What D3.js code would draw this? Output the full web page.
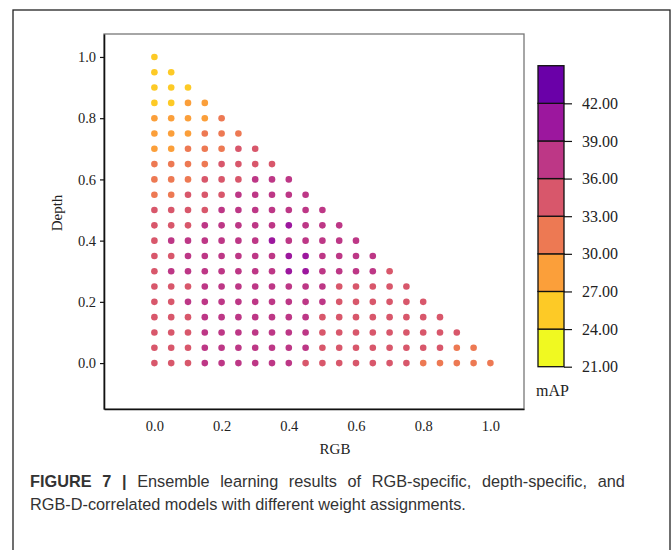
<!DOCTYPE html>
<html>
<head>
<meta charset="utf-8">
<script src="https://cdn.jsdelivr.net/npm/d3@7"></script>
<style>
body { margin: 0; background: #fff; }
svg { display: block; }
</style>
</head>
<body>
<script>
// weight grid: rgb weight along x, depth weight along y (step 0.05, rgb + depth <= 1)
var depthWeights = d3.range(0, 21).map(function(k) { return +(k * 0.05).toFixed(2); });

// mAP per depth row (row k = depth 0.05*k), entries for rgb = 0, 0.05, ... 1 - depth
var mapRows = [
    [34.2,35.1,35.8,36.6,37.3,37.9,38.1,37.8,37.2,35.9,35.6,35.2,34.8,34.3,33.9,33.4,32.8,32.1,31.5,30.9,30.3],
    [34.4,35.3,35.9,36.8,37.5,38.0,38.3,38.1,37.6,36.9,35.8,35.4,35.0,34.6,34.1,33.6,33.2,33.0,32.4,31.7],
    [34.5,35.4,35.9,36.9,37.6,38.2,38.5,38.3,37.9,37.1,35.9,35.6,35.2,34.9,34.5,34.1,33.7,33.4,33.1],
    [34.6,35.5,35.9,37.0,37.8,38.4,38.7,38.6,38.2,37.4,35.9,35.7,35.3,34.9,34.5,34.0,33.6,33.2],
    [34.7,35.8,36.3,37.2,37.9,38.5,38.8,38.7,38.4,37.7,36.4,35.8,35.4,35.0,34.5,34.0,33.5],
    [34.8,35.6,35.9,37.1,37.9,38.6,38.9,38.8,38.6,38.0,36.7,35.9,35.5,35.0,34.5,34.0],
    [35.0,36.4,37.5,38.2,38.7,38.9,38.9,38.8,39.2,39.3,38.4,37.8,37.1,36.2,35.4],
    [34.9,35.9,37.1,38.0,38.6,38.8,38.9,38.9,39.3,39.2,38.5,37.9,37.0,36.1],
    [35.2,36.5,37.4,38.2,38.6,38.8,38.9,39.1,38.9,38.6,38.0,37.2,36.3],
    [34.9,35.6,35.9,36.9,37.8,38.4,38.7,38.9,39.1,38.8,38.1,37.0],
    [34.6,35.3,35.7,35.9,36.8,37.6,38.1,38.5,38.6,38.3,37.4],
    [32.6,32.9,33.8,34.9,35.8,36.6,37.3,37.8,38.0,37.6],
    [31.5,32.1,32.8,33.6,34.7,35.7,36.4,36.9,37.1],
    [30.6,31.3,32.0,32.7,33.5,34.4,35.1,35.5],
    [29.1,29.8,30.5,31.4,32.5,33.4,34.0],
    [28.2,28.9,29.7,30.6,31.5,32.4],
    [27.4,28.0,28.7,29.6,30.5],
    [26.3,26.9,27.6,28.4],
    [25.5,26.0,26.7],
    [24.6,25.4],
    [24.3]
];

var xTicks = [0, 0.2, 0.4, 0.6, 0.8, 1.0];
var yTicks = [0, 0.2, 0.4, 0.6, 0.8, 1.0];
var binEdges = [21, 24, 27, 30, 33, 36, 39, 42, 45];
var binColors = ["#f0f921","#fdca26","#fb9f3a","#ed7953","#d8576b","#bd3786","#9c179e","#6a00a8"];

var points = [];
mapRows.forEach(function(row, k) {
    row.forEach(function(v, i) {
        points.push({ rgb: +(i * 0.05).toFixed(2), depth: depthWeights[k], map: v });
    });
});

var width = 672, height = 550;
var svg = d3.select("body").append("svg")
    .attr("width", width)
    .attr("height", height);

// figure border
svg.append("rect")
    .attr("x", 13).attr("y", 10)
    .attr("width", 657).attr("height", 560)
    .attr("fill", "none")
    .attr("stroke", "#222")
    .attr("stroke-width", 1.3);

var x = d3.scaleLinear().domain([-0.15, 1.1]).range([104, 524]);
var y = d3.scaleLinear().domain([-0.15, 1.075]).range([409, 34]);
var color = d3.scaleThreshold().domain(binEdges.slice(1, -1)).range(binColors);

// plot frame (top/right lighter)
svg.append("rect")
    .attr("x", 104).attr("y", 34)
    .attr("width", 420).attr("height", 375)
    .attr("fill", "none")
    .attr("stroke", "#777")
    .attr("stroke-width", 1.3);

var serif = "'Liberation Serif', 'Times New Roman', serif";

var xAxis = svg.append("g")
    .attr("transform", "translate(0,409)")
    .call(d3.axisBottom(x).tickValues(xTicks).tickFormat(d3.format(".1f"))
        .tickSize(0).tickSizeOuter(0).tickPadding(12));
var yAxis = svg.append("g")
    .attr("transform", "translate(104,0)")
    .call(d3.axisLeft(y).tickValues(yTicks).tickFormat(d3.format(".1f"))
        .tickSizeInner(4).tickSizeOuter(0).tickPadding(4));

[xAxis, yAxis].forEach(function(a) {
    a.select(".domain").attr("stroke", "#111").attr("stroke-width", 1.6);
    a.selectAll(".tick line").attr("stroke", "#111").attr("stroke-width", 1.2);
    a.selectAll("text").attr("font-family", serif).attr("font-size", 14.5).attr("fill", "#222");
});

svg.append("text")
    .attr("x", 335).attr("y", 454)
    .attr("text-anchor", "middle")
    .attr("font-family", serif).attr("font-size", 15).attr("fill", "#222")
    .text("RGB");
svg.append("text")
    .attr("transform", "translate(62,213) rotate(-90)")
    .attr("text-anchor", "middle")
    .attr("font-family", serif).attr("font-size", 15).attr("fill", "#222")
    .text("Depth");

svg.append("g").selectAll("circle")
    .data(points)
    .enter()
    .append("circle")
    .attr("cx", function(d) { return x(d.rgb); })
    .attr("cy", function(d) { return y(d.depth); })
    .attr("r", 3.3)
    .attr("fill", function(d) { return color(d.map); });

// colorbar
var cb = d3.scaleLinear().domain([21, 45]).range([366.7, 65.7]);
var bins = d3.range(binColors.length).map(function(i) {
    return { lo: binEdges[i], hi: binEdges[i + 1], c: binColors[i] };
});
svg.append("g").selectAll("rect")
    .data(bins)
    .enter()
    .append("rect")
    .attr("x", 538)
    .attr("y", function(d) { return cb(d.hi); })
    .attr("width", 26)
    .attr("height", function(d) { return cb(d.lo) - cb(d.hi); })
    .attr("fill", function(d) { return d.c; })
    .attr("stroke", "#111")
    .attr("stroke-width", 1.3);

var cbAxis = svg.append("g")
    .attr("transform", "translate(564,0)")
    .call(d3.axisRight(cb).tickValues(binEdges.slice(0, -1)).tickFormat(d3.format(".2f")).tickSize(8).tickPadding(10));
cbAxis.select(".domain").remove();
cbAxis.selectAll(".tick line").attr("stroke", "#111").attr("stroke-width", 1.2);
cbAxis.selectAll("text").attr("font-family", serif).attr("font-size", 16).attr("fill", "#222");

svg.append("text")
    .attr("x", 536).attr("y", 396)
    .attr("font-family", serif).attr("font-size", 16).attr("fill", "#222")
    .text("mAP");

// caption (first line justified to the column width)
var sans = "'Liberation Sans', Arial, sans-serif";
var cap1 = svg.append("text")
    .attr("x", 30).attr("y", 487)
    .attr("font-family", sans).attr("font-size", 16.3).attr("fill", "#333");
cap1.append("tspan").attr("font-weight", "bold").text("FIGURE 7 | ");
cap1.append("tspan").text("Ensemble learning results of RGB-specific, depth-specific, and");
var len1 = cap1.node().getComputedTextLength();
cap1.attr("word-spacing", ((601 - len1) / 10).toFixed(2));

svg.append("text")
    .attr("x", 30).attr("y", 510)
    .attr("font-family", sans).attr("font-size", 16.3).attr("fill", "#333")
    .text("RGB-D-correlated models with different weight assignments.");
</script>
</body>
</html>
